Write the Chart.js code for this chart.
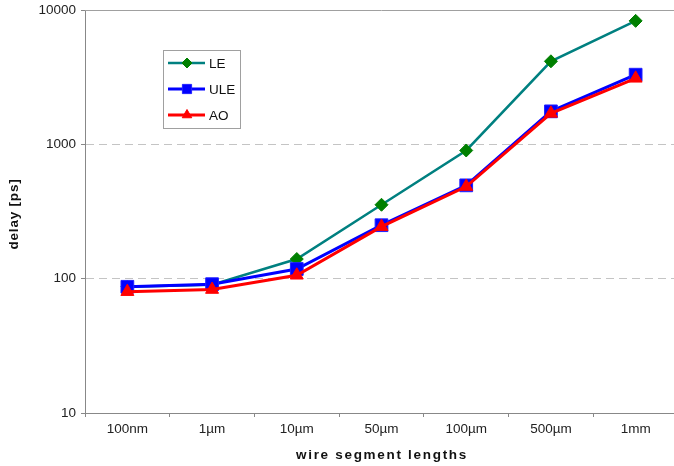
<!DOCTYPE html>
<html>
<head>
<meta charset="utf-8">
<script src="https://cdn.jsdelivr.net/npm/chart.js@4/dist/chart.umd.min.js"></script>
<style>
  html, body { margin: 0; padding: 0; background: #fff; overflow: hidden; width: 674px; height: 466px; }
  #wrap { width: 678px; height: 466px; }
</style>
</head>
<body>
<div id="wrap"><canvas id="c" width="678" height="466"></canvas></div>
<script>
const categories = ['100nm', '1\u00b5m', '10\u00b5m', '50\u00b5m', '100\u00b5m', '500\u00b5m', '1mm'];
const seriesNames = ['LE', 'ULE', 'AO'];
const leValues  = [87, 90, 140, 355, 900, 4150, 8300];
const uleValues = [87, 91, 118, 250, 495, 1760, 3300];
const aoValues  = [80, 83, 106, 244, 485, 1700, 3100];
const yTickValues = [10, 100, 1000, 10000];
const xTitle = 'wire segment lengths';
const yTitle = 'delay [ps]';

const FONT = "'Liberation Sans', Arial, sans-serif";

function drawMarker(ctx, style, x, y, r) {
  ctx.beginPath();
  if (style === 'rectRot') {
    ctx.moveTo(x - r, y); ctx.lineTo(x, y - r); ctx.lineTo(x + r, y); ctx.lineTo(x, y + r);
  } else if (style === 'rect') {
    const h = r * Math.SQRT1_2;
    ctx.rect(x - h, y - h, 2 * h, 2 * h);
  } else {
    const a = -Math.PI / 2;
    for (let k = 0; k < 3; k++) {
      const ang = a + k * 2 * Math.PI / 3;
      const px = x + Math.cos(ang) * r, py = y + Math.sin(ang) * r;
      if (k === 0) ctx.moveTo(px, py); else ctx.lineTo(px, py);
    }
  }
  ctx.closePath();
  ctx.fill();
  ctx.stroke();
}

const legendPlugin = {
  id: 'insideLegend',
  afterDraw(chart) {
    const ctx = chart.ctx;
    ctx.save();
    ctx.fillStyle = '#fff';
    ctx.strokeStyle = '#a0a0a0';
    ctx.lineWidth = 1;
    ctx.fillRect(163.5, 50.5, 77, 78);
    ctx.strokeRect(163.5, 50.5, 77, 78);
    const rows = [63, 89, 115];
    chart.data.datasets.forEach((ds, i) => {
      const y = rows[i];
      ctx.strokeStyle = ds.borderColor;
      ctx.lineWidth = ds.borderWidth;
      ctx.beginPath();
      ctx.moveTo(168, y);
      ctx.lineTo(205, y);
      ctx.stroke();
      ctx.fillStyle = ds.pointBackgroundColor;
      ctx.strokeStyle = ds.pointBorderColor;
      ctx.lineWidth = 1;
      drawMarker(ctx, ds.pointStyle, 187, y, ds.legendRadius);
      ctx.fillStyle = '#111';
      ctx.font = '13.5px ' + FONT;
      ctx.textBaseline = 'middle';
      ctx.textAlign = 'left';
      ctx.fillText(ds.label, 209, y + 1);
    });
    ctx.restore();
  }
};

const framePlugin = {
  id: 'frame',
  beforeDatasetsDraw(chart) {
    const {ctx, chartArea} = chart;
    ctx.save();
    ctx.strokeStyle = '#a0a0a0';
    ctx.lineWidth = 1;
    ctx.beginPath();
    ctx.moveTo(chartArea.left, Math.round(chartArea.top) + 0.5);
    ctx.lineTo(chartArea.right, Math.round(chartArea.top) + 0.5);
    ctx.stroke();
    ctx.restore();
  },
  afterDraw(chart) {
    const {ctx} = chart;
    ctx.save();
    ctx.fillStyle = '#111';
    ctx.font = 'bold 13.5px ' + FONT;
    ctx.textAlign = 'center';
    ctx.textBaseline = 'middle';
    ctx.letterSpacing = '1.7px';
    ctx.fillText(xTitle, 382, 455);
    ctx.letterSpacing = '0.8px';
    ctx.translate(14.5, 214);
    ctx.rotate(-Math.PI / 2);
    ctx.fillText(yTitle, 0, 0);
    ctx.restore();
  }
};

new Chart(document.getElementById('c'), {
  type: 'line',
  data: {
    labels: categories,
    datasets: [
      {
        label: seriesNames[0], data: leValues, order: 3,
        borderColor: '#008080', borderWidth: 2.5,
        pointStyle: 'rectRot', pointRadius: 6.5, legendRadius: 5,
        pointBackgroundColor: '#008000', pointBorderColor: '#008000', pointBorderWidth: 1
      },
      {
        label: seriesNames[1], data: uleValues, order: 2,
        borderColor: '#0000ff', borderWidth: 3,
        pointStyle: 'rect', pointRadius: 9, legendRadius: 6.5,
        pointBackgroundColor: '#0000ff', pointBorderColor: '#2020ff', pointBorderWidth: 1
      },
      {
        label: seriesNames[2], data: aoValues, order: 1,
        borderColor: '#ff0000', borderWidth: 3,
        pointStyle: 'triangle', pointRadius: 7.5, legendRadius: 5.5,
        pointBackgroundColor: '#ff0000', pointBorderColor: '#ff0000', pointBorderWidth: 1
      }
    ]
  },
  options: {
    responsive: false,
    animation: false,
    devicePixelRatio: 1,
    layout: { autoPadding: false, padding: { top: 10, left: 0, right: 0, bottom: 0 } },
    plugins: { legend: { display: false }, tooltip: { enabled: false } },
    elements: { line: { tension: 0 } },
    scales: {
      x: {
        type: 'category',
        offset: true,
        afterFit: s => { s.height = 53; s.paddingLeft = 0; s.paddingRight = 0; },
        grid: { display: true, offset: true, drawOnChartArea: false, drawTicks: true, tickLength: 4, color: '#888', tickColor: '#888' },
        border: { display: true, color: '#888', width: 1 },
        ticks: { color: '#222', font: { family: FONT, size: 13.5 }, padding: 4, maxRotation: 0, autoSkip: false }
      },
      y: {
        type: 'logarithmic',
        min: 10, max: 10000,
        afterFit: s => { s.width = 85; s.paddingTop = 0; s.paddingBottom = 0; },
        afterBuildTicks: s => { s.ticks = yTickValues.map(v => ({ value: v })); },
        grid: {
          drawTicks: true, tickLength: 4,
          color: c => (c.tick && (c.tick.value === 100 || c.tick.value === 1000)) ? '#c4c4c4' : 'rgba(0,0,0,0)',
          tickColor: '#888',
          lineWidth: 1
        },
        border: { display: true, color: '#888', width: 1, dash: [8, 5] },
        ticks: {
          color: '#222', font: { family: FONT, size: 13.5 }, padding: 5,
          callback: v => String(v)
        }
      }
    }
  },
  plugins: [framePlugin, legendPlugin]
});
</script>
</body>
</html>
